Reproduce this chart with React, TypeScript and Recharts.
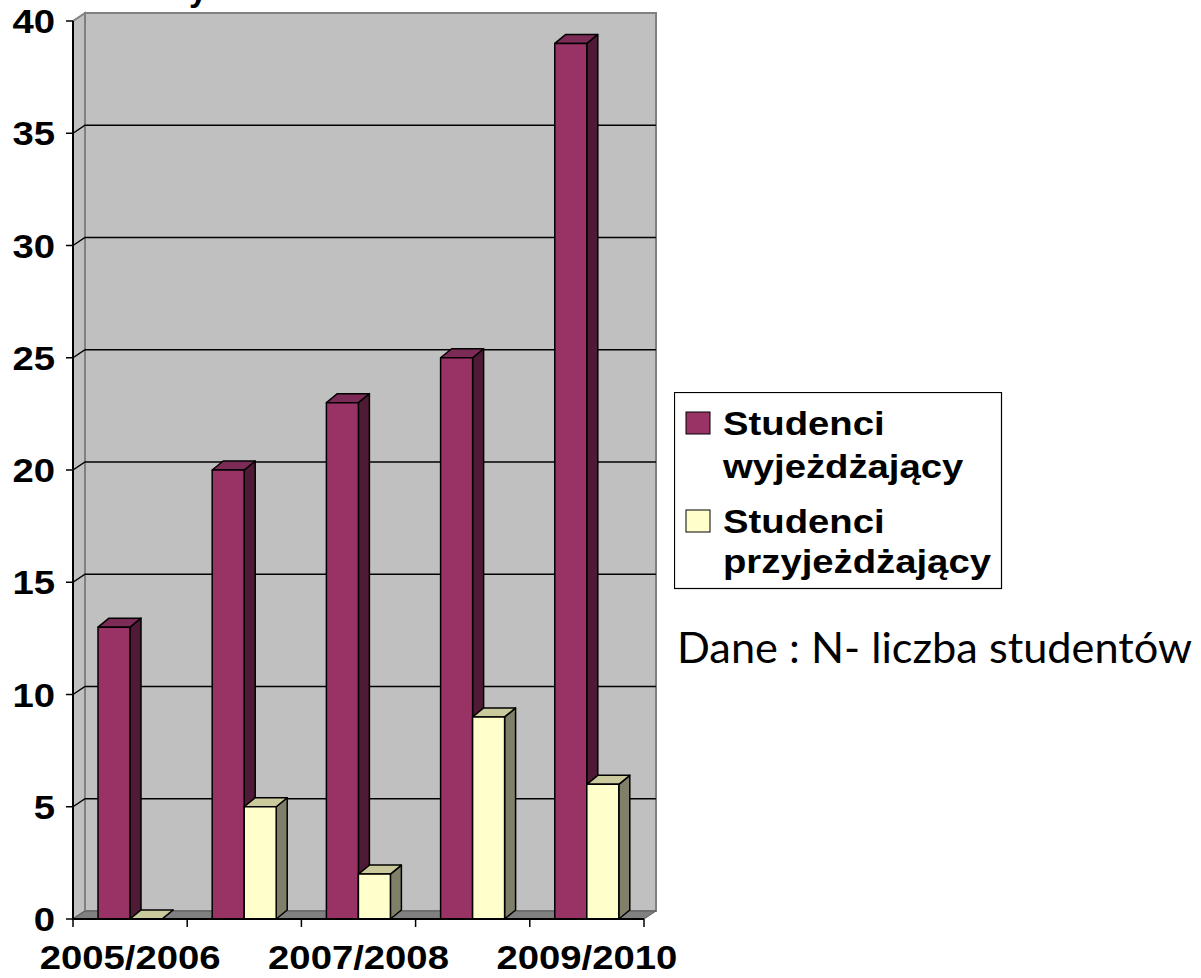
import { BarChart, Bar, XAxis, YAxis, ReferenceArea } from 'recharts';

const years = ['2005/2006', '2006/2007', '2007/2008', '2008/2009', '2009/2010'];
const outgoing = [13, 20, 23, 25, 39];
const incoming = [0, 5, 2, 9, 6];
const yTicks = [0, 5, 10, 15, 20, 25, 30, 35, 40];
const seriesNames = ['Studenci wyjeżdżający', 'Studenci przyjeżdżający'];
const note = 'Dane : N- liczba studentów';

const data = years.map((name, i) => ({ name, outgoing: outgoing[i], incoming: incoming[i] }));

const W = 1201;
const H = 978;
const WALL_DX = 12;
const WALL_DY = 8;
const BAR_DX = 11;
const BAR_DY = 9;
const boldFont = '"Liberation Sans", Arial, sans-serif';
const STRETCH = 1.16;

const palette = {
  outgoing: { front: '#993366', side: '#4E1A35', top: '#7C2B56' },
  incoming: { front: '#FFFFCC', side: '#80806A', top: '#CACA9C' },
};
const legendColors = [palette.outgoing.front, palette.incoming.front];

function make3DBar(colors: { front: string; side: string; top: string }) {
  return (props: any) => {
    const { x, y, width, height } = props;
    const h = Math.max(0, height || 0);
    const r = x + width;
    const b = y + h;
    return (
      <g stroke="#000" strokeWidth={1.5} strokeLinejoin="round">
        <polygon
          points={`${r},${y} ${r + BAR_DX},${y - BAR_DY} ${r + BAR_DX},${b - BAR_DY} ${r},${b}`}
          fill={colors.side}
        />
        <polygon
          points={`${x},${y} ${x + BAR_DX},${y - BAR_DY} ${r + BAR_DX},${y - BAR_DY} ${r},${y}`}
          fill={colors.top}
        />
        {h > 0 && <rect x={x} y={y} width={width} height={h} fill={colors.front} />}
      </g>
    );
  };
}

function Walls(props: any) {
  const { x, y, width, height } = props;
  const bottom = y + height;
  const right = x + width;
  const max = yTicks[yTicks.length - 1];
  const n = years.length;
  return (
    <g>
      <rect x={x + WALL_DX} y={y - WALL_DY} width={width} height={height} fill="#C0C0C0" stroke="#808080" strokeWidth={2} />
      <polygon
        points={`${x},${y} ${x + WALL_DX},${y - WALL_DY} ${x + WALL_DX},${bottom - WALL_DY} ${x},${bottom}`}
        fill="#C0C0C0"
        stroke="#808080"
        strokeWidth={2}
      />
      <polygon
        points={`${x},${bottom} ${x + WALL_DX},${bottom - WALL_DY} ${right + WALL_DX},${bottom - WALL_DY} ${right},${bottom}`}
        fill="#808080"
        stroke="#5a5a5a"
        strokeWidth={1}
      />
      {yTicks
        .filter((v) => v > 0 && v < max)
        .map((v) => {
          const yy = bottom - (height * v) / max;
          return (
            <polyline
              key={v}
              points={`${x},${yy} ${x + WALL_DX},${yy - WALL_DY} ${right + WALL_DX},${yy - WALL_DY}`}
              fill="none"
              stroke="#000"
              strokeWidth={1.5}
            />
          );
        })}
      {Array.from({ length: n + 1 }, (_, i) => {
        const xx = x + (i * width) / n;
        return <line key={i} x1={xx} y1={bottom} x2={xx} y2={bottom + 8} stroke="#000" strokeWidth={1.5} />;
      })}
    </g>
  );
}

const YTick = (props: any) => {
  const { x, y, payload } = props;
  return (
    <g transform={`translate(${x - 9},${y + 12}) scale(${STRETCH},1)`}>
      <text textAnchor="end" fontSize={33} fontWeight="bold" fontFamily={boldFont} fill="#000">
        {payload.value}
      </text>
    </g>
  );
};

const XTick = (props: any) => {
  const { x, y, payload, index } = props;
  if (index % 2 !== 0) return null;
  return (
    <g transform={`translate(${x},${y + 40}) scale(${STRETCH},1)`}>
      <text textAnchor="middle" fontSize={33} fontWeight="bold" fontFamily={boldFont} fill="#000">
        {payload.value}
      </text>
    </g>
  );
};

function LegendBox() {
  const baselines = [
    [43, 86],
    [141, 181],
  ];
  return (
    <svg width={329} height={198} style={{ position: 'absolute', left: 674, top: 392, display: 'block' }}>
      <rect x={0.5} y={0.5} width={327} height={196} fill="#fff" stroke="#000" strokeWidth={1.2} />
      {seriesNames.map((name, i) => {
        const words = name.split(' ');
        const [b1, b2] = baselines[i];
        return (
          <g key={name}>
            <rect x={12} y={b1 - 23} width={24} height={22} fill={legendColors[i]} stroke="#000" strokeWidth={1} />
            <g transform={`translate(49,${b1}) scale(${STRETCH},1)`}>
              <text fontSize={33} fontWeight="bold" fontFamily={boldFont} fill="#000">{words[0]}</text>
            </g>
            <g transform={`translate(49,${b2}) scale(${STRETCH},1)`}>
              <text fontSize={33} fontWeight="bold" fontFamily={boldFont} fill="#000">{words.slice(1).join(' ')}</text>
            </g>
          </g>
        );
      })}
    </svg>
  );
}

export default function App() {
  return (
    <div style={{ position: 'absolute', left: 0, top: 0, width: W, height: H, background: '#fff', overflow: 'hidden' }}>
      <BarChart
        width={W}
        height={H}
        data={data}
        margin={{ top: 21, right: 557, bottom: 0, left: 0 }}
        barCategoryGap={25}
        barGap={0}
      >
        <ReferenceArea y1={0} y2={40} shape={Walls} fill="none" stroke="none" ifOverflow="visible" />
        <XAxis
          dataKey="name"
          height={59}
          axisLine={{ stroke: '#000', strokeWidth: 2 }}
          tickLine={false}
          tickSize={8}
          tick={XTick}
          interval={0}
        />
        <YAxis
          width={73}
          domain={[0, 40]}
          ticks={yTicks}
          axisLine={{ stroke: '#000', strokeWidth: 2 }}
          tickLine={{ stroke: '#000', strokeWidth: 1.5 }}
          tickSize={7}
          tick={YTick}
          interval={0}
        />
        <Bar
          dataKey="outgoing"
          name={seriesNames[0]}
          fill={palette.outgoing.front}
          shape={make3DBar(palette.outgoing)}
          isAnimationActive={false}
        />
        <Bar
          dataKey="incoming"
          name={seriesNames[1]}
          fill={palette.incoming.front}
          shape={make3DBar(palette.incoming)}
          isAnimationActive={false}
        />
      </BarChart>
      <LegendBox />
      <svg width={W} height={H} style={{ position: 'absolute', left: 0, top: 0, pointerEvents: 'none' }}>
        <text x={189} y={1} fontSize={33} fontWeight="bold" fontFamily={boldFont} fill="#000">y</text>
        <text
          x={677}
          y={663}
          fontSize={42}
          fontFamily="Lato, 'Open Sans', sans-serif"
          fill="#000"
          textLength={515}
          lengthAdjust="spacingAndGlyphs"
        >
          {note}
        </text>
      </svg>
    </div>
  );
}
